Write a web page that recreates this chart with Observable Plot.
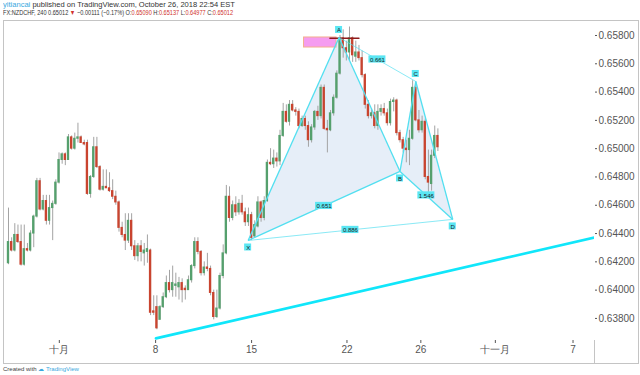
<!DOCTYPE html>
<html><head><meta charset="utf-8">
<script src="https://cdn.jsdelivr.net/npm/d3@7"></script>
<script src="https://cdn.jsdelivr.net/npm/@observablehq/plot@0.6"></script>
<style>
body{margin:0;background:#fff;font-family:"Liberation Sans",Arial,sans-serif;width:640px;height:375px;overflow:hidden;position:relative}
#hdr{position:absolute;left:3px;top:1px;font-size:7px;line-height:7.8px;color:#333;white-space:nowrap}
#hdr div{transform-origin:0 0;display:inline-block}
.blue{color:#3aa8de}.red{color:#d0312d}
#chart{position:absolute;left:0;top:18px}
#frame{position:absolute;left:3px;top:20px;width:634px;height:342px;border:1px solid #c4c4c4;pointer-events:none}
#axext{position:absolute;left:594px;top:340px;width:0;height:23px;border-left:1px solid #c4c4c4}
#ftr{position:absolute;left:3px;top:365px;font-size:6px;color:#444;white-space:nowrap}
</style></head><body>
<div id="hdr"><div id="l1"><span class="blue">yitiancai</span> published on TradingView.com, October 26, 2018 22:54 EST</div><br><div id="l2">FX:NZDCHF, 240 0.65012 <span class="red">▼</span> −0.00111 (−0.17%) O:<span class="red">0.65090</span> H:<span class="red">0.65137</span> L:<span class="red">0.64977</span> C:<span class="red">0.65012</span></div></div>
<div id="chart"></div>
<div id="frame"></div><div id="axext"></div>
<div id="ftr">Created with <span class="blue">☁ TradingView</span></div>
<script>
// 4-hour NZDCHF candles (bar number 1..137)
const opens = [
.6419,.6434,.6428,.6439,.6434,.6418,.6429,.6428,.6440,.6452,
.6477,.6457,.6463,.6449,.6458,.6461,.6476,.6492,.6496,.6492,
.6508,.6500,.6507,.6508,.6504,.6504,.6468,.6480,.6501,.6487,
.6471,.6473,.6472,.6470,.6466,.6462,.6444,.6439,.6435,.6449,
.6431,.6424,.6431,.6426,.6427,.6428,.6385,.6388,.6379,.6388,
.6395,.6405,.6400,.6403,.6402,.6405,.6401,.6400,.6407,.6417,
.6434,.6427,.6412,.6416,.6415,.6398,.6381,.6387,.6410,.6426,
.6466,.6451,.6460,.6455,.6461,.6455,.6448,.6453,.6438,.6445,
.6462,.6451,.6463,.6490,.6489,.6493,.6491,.6509,.6526,.6519,
.6531,.6527,.6526,.6516,.6521,.6516,.6506,.6515,.6526,.6523,
.6543,.6514,.6513,.6525,.6536,.6553,.6578,.6571,.6568,.6578,
.6565,.6568,.6564,.6552,.6531,.6523,.6525,.6516,.6526,.6528,
.6525,.6518,.6533,.6534,.6511,.6506,.6500,.6499,.6507,.6543,
.6520,.6513,.6519,.6480,.6475,.6495,.6509];
const highs = [
.6458,.6437,.6447,.6446,.6446,.6446,.6433,.6442,.6453,.6479,
.6479,.6467,.6467,.6467,.6463,.6478,.6497,.6497,.6497,.6510,
.6509,.6511,.6518,.6509,.6506,.6506,.6481,.6508,.6508,.6488,
.6485,.6485,.6483,.6478,.6470,.6463,.6448,.6454,.6454,.6454,
.6435,.6433,.6435,.6433,.6439,.6429,.6396,.6396,.6389,.6398,
.6410,.6414,.6417,.6412,.6409,.6408,.6403,.6410,.6418,.6437,
.6437,.6428,.6420,.6426,.6417,.6400,.6400,.6412,.6432,.6474,
.6473,.6463,.6466,.6464,.6467,.6458,.6458,.6455,.6449,.6466,
.6463,.6466,.6492,.6500,.6499,.6497,.6513,.6532,.6531,.6534,
.6534,.6529,.6528,.6523,.6523,.6519,.6517,.6527,.6530,.6545,
.6545,.6520,.6527,.6538,.6555,.6580,.6584,.6576,.6586,.6579,
.6576,.6573,.6569,.6553,.6534,.6528,.6531,.6531,.6531,.6532,
.6528,.6535,.6536,.6535,.6513,.6508,.6506,.6513,.6548,.6547,
.6527,.6523,.6521,.6499,.6499,.6516,.6514];
const lows = [
.6418,.6427,.6427,.6433,.6417,.6417,.6427,.6427,.6430,.6451,
.6456,.6456,.6446,.6446,.6435,.6460,.6475,.6489,.6488,.6492,
.6499,.6499,.6504,.6504,.6502,.6467,.6465,.6479,.6486,.6470,
.6470,.6472,.6469,.6464,.6460,.6441,.6437,.6428,.6433,.6428,
.6421,.6420,.6420,.6417,.6419,.6382,.6382,.6372,.6379,.6387,
.6394,.6398,.6395,.6395,.6393,.6391,.6393,.6400,.6405,.6415,
.6425,.6410,.6410,.6413,.6396,.6379,.6380,.6386,.6408,.6425,
.6448,.6449,.6452,.6453,.6453,.6445,.6445,.6435,.6437,.6444,
.6448,.6449,.6462,.6488,.6486,.6487,.6488,.6508,.6518,.6516,
.6526,.6523,.6514,.6515,.6513,.6501,.6504,.6513,.6520,.6521,
.6513,.6497,.6512,.6523,.6535,.6552,.6564,.6562,.6562,.6561,
.6561,.6562,.6550,.6528,.6521,.6521,.6514,.6513,.6523,.6523,
.6516,.6516,.6526,.6509,.6504,.6497,.6490,.6488,.6506,.6519,
.6511,.6511,.6478,.6469,.6470,.6493,.6498];
const closes = [
.6434,.6428,.6439,.6434,.6418,.6429,.6428,.6440,.6452,.6477,
.6457,.6463,.6449,.6458,.6461,.6476,.6492,.6496,.6492,.6508,
.6500,.6507,.6508,.6504,.6503,.6468,.6480,.6501,.6487,.6471,
.6473,.6472,.6470,.6466,.6462,.6444,.6439,.6435,.6449,.6431,
.6424,.6431,.6427,.6428,.6429,.6384,.6384,.6373,.6388,.6395,
.6405,.6400,.6405,.6404,.6405,.6400,.6400,.6407,.6417,.6434,
.6427,.6412,.6416,.6415,.6398,.6381,.6387,.6410,.6426,.6466,
.6451,.6460,.6455,.6461,.6455,.6448,.6453,.6437,.6446,.6462,
.6451,.6463,.6490,.6489,.6493,.6491,.6509,.6526,.6519,.6531,
.6527,.6526,.6516,.6521,.6516,.6506,.6515,.6526,.6523,.6543,
.6514,.6513,.6525,.6536,.6553,.6578,.6571,.6568,.6578,.6566,
.6568,.6564,.6552,.6531,.6523,.6525,.6516,.6526,.6528,.6525,
.6518,.6533,.6534,.6511,.6506,.6500,.6499,.6507,.6543,.6520,
.6513,.6519,.6480,.6476,.6495,.6509,.6501];

// time axis (bar position where each date starts) and labels
const timeTickBars = [17.1, 47.6, 78.0, 108.2, 131.6, 155.2, 179.8];
const timeTickLabels = ["十月", "8", "15", "22", "26", "十一月", "7"];
const priceTicks = [0.638, 0.640, 0.642, 0.644, 0.646, 0.648, 0.650, 0.652, 0.654, 0.656, 0.658];

// XABCD pattern
const patternNames = ["X", "A", "B", "C", "D"];
const patternBars = [76.9, 105.7, 125.0, 130.0, 141.7];
const patternPrices = [0.64351, 0.65786, 0.64839, 0.65475, 0.64500];
const ratioFrom = ["X", "A", "X", "B"];
const ratioTo = ["B", "C", "D", "D"];
const ratioValues = ["0.651", "0.661", "0.886", "1.546"];

// other drawings
const trendBars = [47.7, 186.6];
const trendPrices = [0.63659, 0.64372];
const zoneBars = [94.6, 104.9];
const zonePrices = [0.65715, 0.65786];
const levelBars = [102.8, 112.0];
const levelPrice = 0.65781;

const candles = closes.map((c, k) => ({i: k + 1, o: opens[k], h: highs[k], l: lows[k], c}));
const pts = patternNames.map((n, k) => ({n, x: patternBars[k], y: patternPrices[k]}));
const P = Object.fromEntries(pts.map(p => [p.n, p]));
const segs = [["X","A"],["A","B"],["B","C"],["C","D"],["X","B"],["B","D"]].map(([a,b]) => ({a: P[a], b: P[b]}));
const thin = ratioFrom.map((f, k) => ({a: P[f], b: P[ratioTo[k]]}))
  .filter(d => !((d.a.n === "X" && d.b.n === "B") || (d.a.n === "B" && d.b.n === "D")));
const ratios = ratioFrom.map((f, k) => ({x: (P[f].x + P[ratioTo[k]].x) / 2, y: (P[f].y + P[ratioTo[k]].y) / 2, t: ratioValues[k]}));
const trend = trendBars.map((x, k) => ({x, y: trendPrices[k]}));
const above = new Set(["A", "C"]);
const ptsAbove = pts.filter(d => above.has(d.n)), ptsBelow = pts.filter(d => !above.has(d.n));
const up = "#55a06d", down = "#c9442f", cyan = "#52dff0", boxFill = "#5ae6f3", ink = "#1a1a1a";

const chart = Plot.plot({
  width: 640, height: 346,
  marginTop: 2, marginBottom: 24, marginLeft: 3, marginRight: 46,
  style: {fontFamily: "Liberation Sans, Arial, sans-serif", fontSize: "10px", color: "#555", background: "transparent", overflow: "visible"},
  x: {domain: [-0.58, 186.6], axis: "bottom", ticks: timeTickBars, tickFormat: d => timeTickLabels[timeTickBars.indexOf(d)], tickSize: 3, tickPadding: 2, label: null},
  y: {domain: [0.63644, 0.65906], axis: "right", ticks: priceTicks, tickFormat: d3.format(".5f"), tickSize: 2, tickPadding: 2, label: null},
  marks: [
    Plot.line(pts.slice(0, 3), {x: "x", y: "y", fill: "#dde8f5", fillOpacity: 0.75, stroke: "none"}),
    Plot.line(pts.slice(2, 5), {x: "x", y: "y", fill: "#dde8f5", fillOpacity: 0.75, stroke: "none"}),
    Plot.rect([0], {x1: zoneBars[0], x2: zoneBars[1], y1: zonePrices[0], y2: zonePrices[1], fill: "#f59cf0", stroke: "#f3b08e", strokeWidth: 1}),
    Plot.ruleX(candles, {x: "i", y1: "l", y2: "h", stroke: "#a3a3a3", strokeWidth: 1}),
    Plot.rect(candles, {x1: d => d.i - 0.37, x2: d => d.i + 0.37, y1: "o", y2: "c", insetTop: -0.5, insetBottom: -0.5, fill: d => d.c >= d.o ? up : down}),
    Plot.line([0, 1], {x: k => levelBars[k], y: () => levelPrice, stroke: "#8e1b1b", strokeWidth: 1.5}),
    Plot.link(thin, {x1: d => d.a.x, y1: d => d.a.y, x2: d => d.b.x, y2: d => d.b.y, stroke: cyan, strokeWidth: 0.8, strokeOpacity: 0.85}),
    Plot.link(segs, {x1: d => d.a.x, y1: d => d.a.y, x2: d => d.b.x, y2: d => d.b.y, stroke: cyan, strokeWidth: 1.3}),
    Plot.line(trend, {x: "x", y: "y", stroke: "#10e6fa", strokeWidth: 2.6, clip: true}),
    Plot.rect(ptsAbove, {x1: "x", x2: "x", y1: "y", y2: "y", insetLeft: -3.5, insetRight: -3.5, insetTop: -11, insetBottom: 4, fill: boxFill}),
    Plot.rect(ptsBelow, {x1: "x", x2: "x", y1: "y", y2: "y", insetLeft: -3.5, insetRight: -3.5, insetTop: 3.5, insetBottom: -10.5, fill: boxFill}),
    Plot.text(ptsAbove, {x: "x", y: "y", text: "n", dy: -7.3, fontSize: 6, fill: ink}),
    Plot.text(ptsBelow, {x: "x", y: "y", text: "n", dy: 7.2, fontSize: 6, fill: ink}),
    Plot.rect(ratios, {x1: "x", x2: "x", y1: "y", y2: "y", insetLeft: -8.5, insetRight: -8.5, insetTop: -3.6, insetBottom: -3.6, fill: boxFill}),
    Plot.text(ratios, {x: "x", y: "y", text: "t", dy: 0.3, fontSize: 6, fill: ink})
  ]
});
document.getElementById("chart").appendChild(chart);
// fit the two header lines to the published widths
[["l1", 232], ["l2", 230]].forEach(([id, w]) => {
  const el = document.getElementById(id);
  el.style.transform = `scaleX(${w / el.getBoundingClientRect().width})`;
});
</script>
</body></html>
